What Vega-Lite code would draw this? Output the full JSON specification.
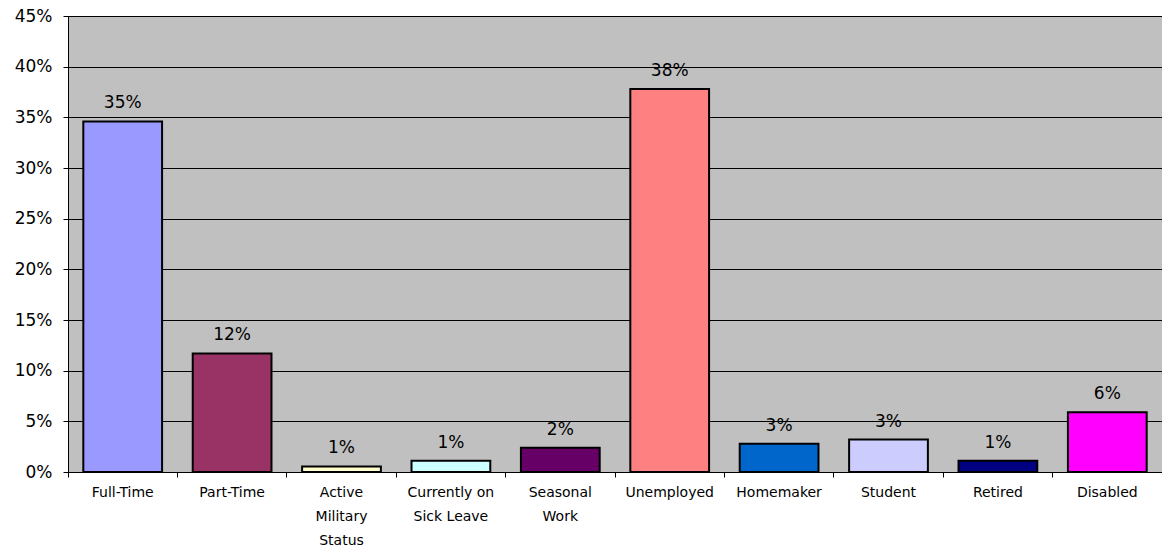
{
  "$schema": "https://vega.github.io/schema/vega-lite/v6.json",
  "width": 1094,
  "height": 456,
  "autosize": {"type": "none"},
  "padding": {"left": 68, "top": 16, "right": 0, "bottom": 80},
  "background": "white",
  "data": {
    "values": [
      {"status": "Full-Time", "share": 0.346},
      {"status": "Part-Time", "share": 0.117},
      {"status": "Active Military Status", "share": 0.0055},
      {"status": "Currently on Sick Leave", "share": 0.011},
      {"status": "Seasonal Work", "share": 0.024},
      {"status": "Unemployed", "share": 0.378},
      {"status": "Homemaker", "share": 0.028},
      {"status": "Student", "share": 0.032},
      {"status": "Retired", "share": 0.011},
      {"status": "Disabled", "share": 0.059}
    ]
  },
  "encoding": {
    "x": {
      "field": "status",
      "type": "nominal",
      "sort": null,
      "scale": {"paddingInner": 0.28, "paddingOuter": 0.14},
      "axis": {
        "title": null,
        "labelAngle": 0,
        "bandPosition": -0.1944,
        "labelFont": "DejaVu Sans",
        "labelFontSize": 14,
        "labelColor": "#000",
        "labelLineHeight": 24,
        "labelBaseline": "top",
        "labelPadding": 8,
        "domainColor": "#000",
        "tickColor": "#000",
        "tickSize": 5,
        "grid": false,
        "labelExpr": "datum.label == 'Active Military Status' ? ['Active','Military','Status'] : datum.label == 'Currently on Sick Leave' ? ['Currently on','Sick Leave'] : datum.label == 'Seasonal Work' ? ['Seasonal','Work'] : datum.label"
      }
    },
    "y": {
      "field": "share",
      "type": "quantitative",
      "scale": {"domain": [0, 0.45], "nice": false},
      "axis": {
        "title": null,
        "values": [0, 0.05, 0.1, 0.15, 0.2, 0.25, 0.3, 0.35, 0.4, 0.45],
        "format": ".0%",
        "labelFont": "DejaVu Sans",
        "labelFontSize": 17,
        "labelColor": "#000",
        "labelPadding": 11,
        "domainColor": "#000",
        "tickColor": "#000",
        "tickSize": 5,
        "grid": true,
        "gridColor": "#000",
        "gridOpacity": 1,
        "gridWidth": 1
      }
    }
  },
  "layer": [
    {
      "mark": {"type": "bar", "stroke": "#000", "strokeWidth": 2},
      "encoding": {
        "color": {
          "field": "status",
          "type": "nominal",
          "scale": {
            "domain": ["Full-Time", "Part-Time", "Active Military Status", "Currently on Sick Leave", "Seasonal Work", "Unemployed", "Homemaker", "Student", "Retired", "Disabled"],
            "range": ["#9999FF", "#993366", "#FFFFCC", "#CCFFFF", "#660066", "#FF8080", "#0066CC", "#CCCCFF", "#000080", "#FF00FF"]
          },
          "legend": null
        }
      }
    },
    {
      "mark": {"type": "text", "baseline": "alphabetic", "dy": -13, "fontSize": 17, "font": "DejaVu Sans", "color": "#000"},
      "encoding": {
        "text": {"field": "share", "type": "quantitative", "format": ".0%"}
      }
    }
  ],
  "config": {
    "view": {"fill": "#C0C0C0", "stroke": "#000", "strokeWidth": 1}
  }
}
